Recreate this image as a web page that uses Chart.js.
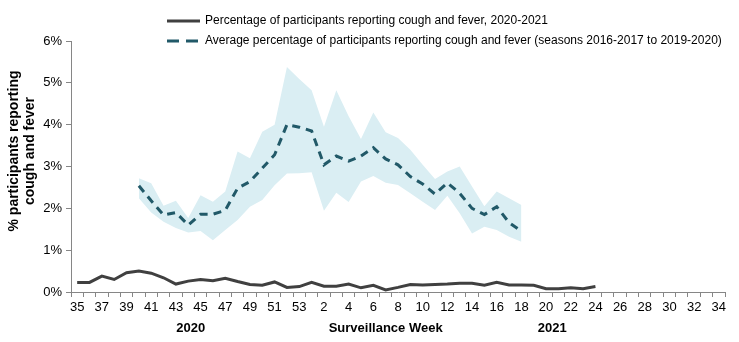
<!DOCTYPE html>
<html>
<head>
<meta charset="utf-8">
<script src="https://cdn.jsdelivr.net/npm/chart.js@4.4.1/dist/chart.umd.min.js"></script>
<style>
  html, body { margin: 0; padding: 0; background: #fff; }
  #wrap { width: 739px; height: 342px; }
</style>
</head>
<body>
<div id="wrap"><canvas id="coughChart"></canvas></div>
<script>
// surveillance weeks, season 2020-2021 (week 35 of 2020 to week 34 of 2021)
const weeks = ["35", "36", "37", "38", "39", "40", "41", "42", "43", "44", "45", "46", "47", "48", "49", "50", "51", "52", "53",
    "1", "2", "3", "4", "5", "6", "7", "8", "9", "10", "11", "12", "13", "14", "15", "16", "17", "18", "19", "20",
    "21", "22", "23", "24", "25", "26", "27", "28", "29", "30", "31", "32", "33", "34"];

// % of participants reporting cough and fever, 2020-2021
const current = [0.23, 0.23, 0.38, 0.30, 0.46, 0.50, 0.45, 0.34, 0.19, 0.26, 0.30, 0.27, 0.33, 0.25, 0.18, 0.16, 0.24, 0.11, 0.13,
    0.23, 0.14, 0.14, 0.19, 0.10, 0.16, 0.05, 0.11, 0.18, 0.17, 0.18, 0.19, 0.21, 0.21, 0.16, 0.23, 0.17, 0.17, 0.16, 0.08,
    0.08, 0.10, 0.08, 0.13, null, null, null, null, null, null, null, null, null, null];

// average of seasons 2016-2017 to 2019-2020, with its range
const average = [null, null, null, null, null, 2.54, 2.18, 1.84, 1.90, 1.60, 1.86, 1.86, 1.95, 2.48, 2.64, 2.96, 3.28, 4.00, 3.94,
    3.85, 3.04, 3.25, 3.13, 3.25, 3.45, 3.18, 3.04, 2.76, 2.58, 2.34, 2.61, 2.36, 2.00, 1.85, 2.04, 1.66, 1.45, null, null,
    null, null, null, null, null, null, null, null, null, null, null, null, null, null];
const averageHigh = [null, null, null, null, null, 2.72, 2.60, 2.06, 2.18, 1.77, 2.31, 2.16, 2.40, 3.36, 3.20, 3.83, 4.00, 5.38, 5.09,
    4.82, 3.95, 4.82, 4.20, 3.66, 4.29, 3.82, 3.68, 3.40, 3.04, 2.70, 2.88, 3.00, 2.52, 2.05, 2.40, 2.24, 2.08, null, null,
    null, null, null, null, null, null, null, null, null, null, null, null, null, null];
const averageLow = [null, null, null, null, null, 2.24, 1.90, 1.68, 1.53, 1.42, 1.46, 1.24, 1.48, 1.72, 2.04, 2.20, 2.55, 2.83, 2.84,
    2.86, 1.94, 2.37, 2.15, 2.64, 2.77, 2.61, 2.56, 2.36, 2.16, 1.96, 2.30, 1.88, 1.40, 1.56, 1.48, 1.32, 1.20, null, null,
    null, null, null, null, null, null, null, null, null, null, null, null, null, null];

const yTicks = ["0%", "1%", "2%", "3%", "4%", "5%", "6%"];
const yTitle = ["% participants reporting", "cough and fever"];
const bottomLabels = ["2020", "Surveillance Week", "2021"];

const FONT = "'Liberation Sans', Arial, sans-serif";
const AXIS = "#868686";
Chart.defaults.font.family = FONT;

// two-row legend above the plot, lines only
const lineLegend = {
    id: "lineLegend",
    afterDraw(chart) {
        const ctx = chart.ctx;
        [[0, 21, []], [1, 41, [12, 7]]].forEach(([idx, y, dash]) => {
            const ds = chart.data.datasets[idx];
            ctx.save();
            ctx.strokeStyle = ds.borderColor;
            ctx.lineWidth = 3;
            ctx.setLineDash(dash);
            ctx.beginPath();
            ctx.moveTo(167, y);
            ctx.lineTo(200, y);
            ctx.stroke();
            ctx.setLineDash([]);
            ctx.fillStyle = "#000";
            ctx.font = "12px " + FONT;
            ctx.textBaseline = "middle";
            ctx.fillText(ds.label, 205, y);
            ctx.restore();
        });
    }
};

// year markers and axis name under the week labels, plus the rotated y title
const axisText = {
    id: "axisText",
    afterDraw(chart) {
        const ctx = chart.ctx;
        const x = chart.scales.x;
        const at = [9.2, 25, 38.5];
        ctx.save();
        ctx.fillStyle = "#000";
        ctx.font = "bold 13px " + FONT;
        ctx.textAlign = "center";
        ctx.textBaseline = "middle";
        bottomLabels.forEach((t, i) => ctx.fillText(t, x.getPixelForValue(at[i]), 328));

        ctx.font = "bold 14px " + FONT;
        ctx.translate(22, 151);
        ctx.rotate(-Math.PI / 2);
        yTitle.forEach((t, i) => ctx.fillText(t, 0, -8 + i * 16));
        ctx.restore();
    }
};

new Chart(document.getElementById("coughChart"), {
    type: "line",
    data: {
        labels: weeks,
        datasets: [{
            label: "Percentage of participants reporting cough and fever, 2020-2021",
            data: current,
            borderColor: "#404040",
            borderWidth: 3,
            pointRadius: 0,
            fill: false
        }, {
            label: "Average percentage of participants reporting cough and fever (seasons 2016-2017 to 2019-2020)",
            data: average,
            borderColor: "#215968",
            borderWidth: 3,
            borderDash: [8, 6],
            pointRadius: 0,
            fill: false
        }, {
            label: "high",
            data: averageHigh,
            borderWidth: 0,
            borderColor: "rgba(0,0,0,0)",
            backgroundColor: "#daeef3",
            pointRadius: 0,
            fill: "+1"
        }, {
            label: "low",
            data: averageLow,
            borderWidth: 0,
            borderColor: "rgba(0,0,0,0)",
            pointRadius: 0,
            fill: false
        }]
    },
    options: {
        responsive: true,
        maintainAspectRatio: false,
        animation: false,
        layout: { padding: { top: 41, right: 14, left: 0, bottom: 0 } },
        scales: {
            x: {
                offset: true,
                grid: { offset: true, drawOnChartArea: false, tickLength: 5, color: AXIS },
                border: { color: AXIS },
                ticks: {
                    autoSkip: false,
                    maxRotation: 0,
                    padding: 3,
                    color: "#000",
                    font: { size: 13 },
                    callback: (v, i) => (i % 2 === 0 ? weeks[i] : "")
                },
                afterFit: s => { s.height = 50; }
            },
            y: {
                min: 0,
                max: 6,
                grid: { drawOnChartArea: false, tickLength: 5, color: AXIS },
                border: { color: AXIS },
                ticks: {
                    stepSize: 1,
                    padding: 4,
                    color: "#000",
                    font: { size: 13 },
                    callback: v => yTicks[v]
                },
                afterFit: s => { s.width = 71; }
            }
        },
        plugins: {
            legend: { display: false },
            tooltip: { enabled: false }
        }
    },
    plugins: [lineLegend, axisText]
});
</script>
</body>
</html>
